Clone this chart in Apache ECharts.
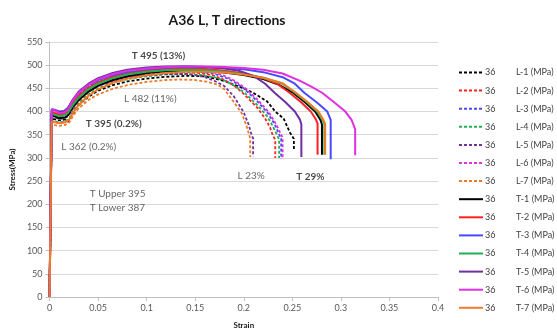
<!DOCTYPE html>
<html><head><meta charset="utf-8">
<script src="https://cdn.jsdelivr.net/npm/echarts@6/dist/echarts.min.js"></script>
<style>html,body{margin:0;padding:0;background:#fff}#c{width:557px;height:334px}</style>
</head><body><div id="c"></div>
<script>
// ---- data (strain, stress MPa) ----
const L1 = [[0,0],[0.0022,385],[0.004,382],[0.01,381],[0.016,383],[0.019,378],[0.021,385],[0.026,402],[0.03,414],[0.04,432],[0.05,445],[0.065,457],[0.08,465],[0.1,471],[0.12,475],[0.14,477],[0.16,476],[0.18,466],[0.2,450],[0.21,440],[0.224,422],[0.2324,400],[0.241,385],[0.2475,355],[0.2516,341],[0.2516,316]];
const L2 = [[0,0],[0.0022,378],[0.004,376],[0.01,375],[0.016,377],[0.02,382],[0.025,405],[0.03,422],[0.04,442],[0.05,455],[0.065,467],[0.08,475],[0.1,481],[0.12,484],[0.14,485],[0.155,483],[0.17,477],[0.18,468],[0.19,456],[0.2,438],[0.214,408],[0.222,385],[0.227,366],[0.2297,350],[0.2324,339],[0.2324,300]];
const L3 = [[0,0],[0.0022,392],[0.003,398],[0.005,393],[0.01,390],[0.016,392],[0.02,398],[0.025,418],[0.03,432],[0.04,450],[0.05,462],[0.065,473],[0.08,480],[0.1,485],[0.12,488],[0.14,488],[0.155,486],[0.17,481],[0.18,474],[0.19,464],[0.2,450],[0.214,422],[0.225,396],[0.232,372],[0.236,352],[0.2385,342],[0.2385,298]];
const L4 = [[0,0],[0.0022,380],[0.004,378],[0.01,377],[0.016,379],[0.02,384],[0.025,403],[0.03,418],[0.04,437],[0.05,450],[0.065,462],[0.08,470],[0.1,476],[0.12,480],[0.14,481],[0.155,479],[0.17,474],[0.18,467],[0.19,456],[0.2,442],[0.214,414],[0.224,390],[0.23,368],[0.234,350],[0.2364,340],[0.2364,300]];
const L5 = [[0,0],[0.0022,390],[0.004,386],[0.01,384],[0.016,386],[0.02,392],[0.025,410],[0.03,425],[0.04,443],[0.05,455],[0.065,466],[0.08,473],[0.1,478],[0.12,481],[0.14,481],[0.15,479],[0.16,474],[0.17,466],[0.18,455],[0.19,432],[0.2,398],[0.205,372],[0.208,350],[0.2096,342],[0.2096,303]];
const L6 = [[0,0],[0.0022,396],[0.003,402],[0.005,397],[0.01,394],[0.016,395],[0.02,401],[0.025,420],[0.03,436],[0.04,454],[0.05,466],[0.065,477],[0.08,484],[0.1,489],[0.12,491],[0.14,491],[0.155,489],[0.17,484],[0.18,477],[0.19,467],[0.2,453],[0.214,426],[0.226,398],[0.233,374],[0.238,352],[0.24,344],[0.24,297]];
const L7 = [[0,0],[0.0022,372],[0.004,370],[0.01,369],[0.016,371],[0.02,376],[0.025,393],[0.03,407],[0.04,425],[0.05,437],[0.065,449],[0.08,457],[0.1,464],[0.12,468],[0.135,469],[0.15,468],[0.16,465],[0.173,458],[0.18,448],[0.19,420],[0.198,396],[0.203,368],[0.2055,350],[0.2066,342],[0.2066,302]];
const T1 = [[0,0],[0.0022,392],[0.004,388],[0.01,386],[0.016,387],[0.019,392],[0.024,410],[0.03,425],[0.04,443],[0.05,456],[0.065,468],[0.08,476],[0.1,483],[0.12,487],[0.14,488],[0.16,487],[0.18,484],[0.2,479],[0.22,470],[0.235,459],[0.251,440],[0.263,420],[0.2735,400],[0.279,382],[0.2805,372],[0.2805,307]];
const T2 = [[0,0],[0.0022,398],[0.004,396],[0.01,394],[0.016,395],[0.019,400],[0.024,418],[0.03,434],[0.04,451],[0.05,463],[0.065,475],[0.08,483],[0.1,489],[0.12,493],[0.14,494],[0.16,492],[0.18,488],[0.2,482],[0.22,472],[0.235,459],[0.2475,440],[0.259,420],[0.269,400],[0.274,384],[0.276,374],[0.276,307]];
const T3 = [[0,0],[0.0022,405],[0.003,409],[0.005,404],[0.01,400],[0.015,401],[0.019,408],[0.024,425],[0.03,440],[0.04,457],[0.05,468],[0.065,479],[0.08,486],[0.1,492],[0.12,495],[0.14,497],[0.16,496],[0.18,494],[0.2,491],[0.22,485],[0.24,474],[0.2526,460],[0.2626,440],[0.275,420],[0.286,400],[0.2895,382],[0.2895,297]];
const T4 = [[0,0],[0.0022,395],[0.004,392],[0.01,390],[0.016,392],[0.019,397],[0.024,414],[0.03,430],[0.04,448],[0.05,460],[0.065,472],[0.08,480],[0.1,486],[0.12,489],[0.14,490],[0.16,489],[0.18,486],[0.2,481],[0.22,473],[0.24,460],[0.253,440],[0.265,420],[0.2755,400],[0.281,382],[0.283,374],[0.283,307]];
const T5 = [[0,0],[0.0022,404],[0.003,408],[0.005,403],[0.01,399],[0.015,400],[0.019,407],[0.024,426],[0.03,443],[0.04,460],[0.05,472],[0.065,483],[0.08,490],[0.1,495],[0.12,497],[0.14,497],[0.16,496],[0.18,493],[0.195,488],[0.21,477],[0.222,460],[0.232,440],[0.243,420],[0.2526,400],[0.258,382],[0.2593,372],[0.2593,302]];
const T6 = [[0,0],[0.0022,400],[0.003,405],[0.005,401],[0.01,397],[0.015,398],[0.019,405],[0.024,424],[0.03,441],[0.04,458],[0.05,470],[0.065,481],[0.08,488],[0.1,493],[0.12,496],[0.14,497],[0.16,497],[0.18,496],[0.2,494],[0.22,490],[0.24,482],[0.258,466],[0.27,453],[0.281,440],[0.293,420],[0.3046,400],[0.311,382],[0.3147,362],[0.3147,306]];
const T7 = [[0,0],[0.0022,378],[0.004,376],[0.01,375],[0.016,377],[0.02,382],[0.025,400],[0.03,414],[0.04,434],[0.05,448],[0.065,462],[0.08,471],[0.1,478],[0.12,483],[0.14,486],[0.16,486],[0.18,484],[0.2,480],[0.22,473],[0.24,461],[0.254,440],[0.266,420],[0.2768,400],[0.282,382],[0.2838,374],[0.2838,307]];

const seriesNames = ['L-1 (MPa)','L-2 (MPa)','L-3 (MPa)','L-4 (MPa)','L-5 (MPa)','L-6 (MPa)','L-7 (MPa)','T-1 (MPa)','T-2 (MPa)','T-3 (MPa)','T-4 (MPa)','T-5 (MPa)','T-6 (MPa)','T-7 (MPa)'];
const seriesData = [L1,L2,L3,L4,L5,L6,L7,T1,T2,T3,T4,T5,T6,T7];
const legendPrefix = '36';

// annotations: [strain, stress, text, bold]
const annotations = [
  [0.0846, 520, 'T 495 (13%)', true],
  [0.0766, 428, 'L 482 (11%)', false],
  [0.0373, 373, 'T 395 (0.2%)', true],
  [0.0121, 325, 'L 362 (0.2%)', false],
  [0.0413, 223, 'T Upper 395', false],
  [0.0413, 193, 'T Lower 387', false],
  [0.1935, 262, 'L 23%', false],
  [0.254, 260, 'T 29%', true]
];
const xTicks = {min: 0, max: 0.4, interval: 0.05};
const yTicks = {min: 0, max: 550, interval: 50};

// ---- styles ----
const colors = ['#000000','#ff2222','#4a4aff','#1fb055','#7030a0','#e030e0','#f07a28'];
const FONT = 'Lato';

const series = seriesData.map((d, i) => {
  const dashed = i < 7;
  return {
    name: seriesNames[i], type: 'line', data: d, symbol: 'none', showSymbol: false,
    color: colors[i % 7],
    lineStyle: { color: colors[i % 7], width: dashed ? 1.8 : 2, type: dashed ? [3, 2] : 'solid' },
    z: 2, silent: true
  };
});
series.push({
  name: 'annotations', type: 'scatter', symbolSize: 0, silent: true, z: 5,
  data: annotations.map(a => ({
    value: [a[0], a[1]],
    label: {
      show: true, formatter: a[2], position: [0, 0], align: 'left', verticalAlign: 'middle',
      fontFamily: FONT, fontSize: 10, fontWeight: a[3] ? 'bold' : 'normal',
      color: a[3] ? '#1a1a1a' : '#404040'
    }
  }))
});

const chart = echarts.init(document.getElementById('c'), null, {renderer: 'canvas'});
chart.setOption({
  animation: false,
  backgroundColor: '#ffffff',
  title: {
    text: 'A36 L, T directions', left: 222, top: 8, textAlign: 'center',
    textStyle: {fontFamily: FONT, fontSize: 14, fontWeight: 'bold', color: '#1a1a1a'}
  },
  grid: {left: 41, right: 119, top: 42, bottom: 29.7, containLabel: false},
  legend: {
    data: seriesNames, orient: 'vertical', left: 458, top: 68, padding: 0,
    itemWidth: 24, itemHeight: 10, itemGap: 8.1,
    itemStyle: {opacity: 0},
    textStyle: {fontFamily: FONT, fontSize: 9, color: '#404040', padding: [0, 0, 0, -3],
      rich: {a: {width: 31, fontFamily: FONT, fontSize: 9, color: '#404040'}, b: {fontFamily: FONT, fontSize: 9, color: '#404040'}}},
    formatter: name => '{a|' + legendPrefix + '}{b|' + name + '}',
    selectedMode: false
  },
  xAxis: {
    type: 'value', min: xTicks.min, max: xTicks.max, interval: xTicks.interval,
    name: 'Strain', nameLocation: 'middle', nameGap: 24,
    nameTextStyle: {fontFamily: FONT, fontSize: 8, fontWeight: 'bold', color: '#1a1a1a'},
    axisLine: {show: true, lineStyle: {color: '#bfbfbf'}},
    axisTick: {show: true, length: 4, lineStyle: {color: '#bfbfbf'}},
    axisLabel: {fontFamily: FONT, fontSize: 9, color: '#595959', margin: 7},
    splitLine: {show: false}
  },
  yAxis: {
    type: 'value', min: yTicks.min, max: yTicks.max, interval: yTicks.interval,
    name: 'Stress(MPa)', nameLocation: 'middle', nameGap: 28,
    nameTextStyle: {fontFamily: FONT, fontSize: 8, fontWeight: 'bold', color: '#1a1a1a'},
    axisLine: {show: true, lineStyle: {color: '#bfbfbf'}},
    axisTick: {show: true, length: 4, lineStyle: {color: '#bfbfbf'}},
    axisLabel: {fontFamily: FONT, fontSize: 9, color: '#595959', margin: 7},
    splitLine: {show: true, lineStyle: {color: '#d9d9d9', width: 1}}
  },
  series: series
});
chart.setOption({legend: {itemGap: 9.1}});
</script></body></html>
